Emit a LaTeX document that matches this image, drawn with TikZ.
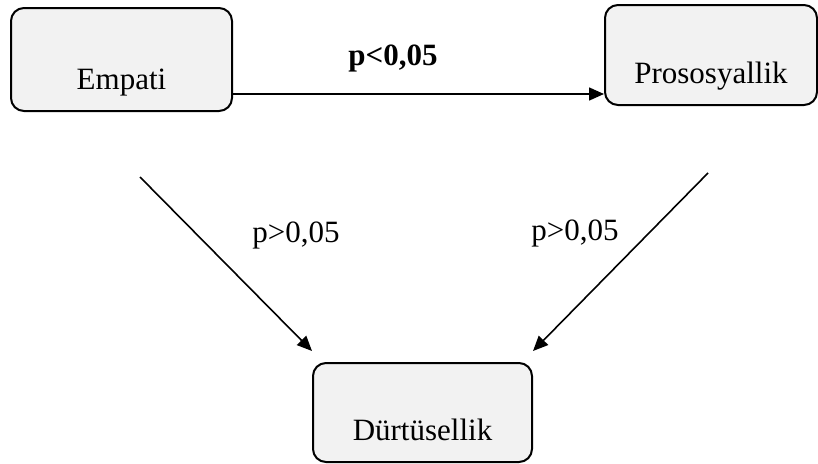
\documentclass[tikz,border=0pt]{standalone}
\usepackage{fontspec}
\setmainfont{Liberation Serif}
\usetikzlibrary{arrows.meta}

\tikzstyle{kutu} = [draw, line width=2pt, rounded corners=13pt, fill=gray!10, inner sep=0pt, text depth=22pt, font=\fontsize{31}{36}\selectfont]
\tikzstyle{ok} = [draw, line width=1.6pt, -{Triangle[length=15pt,width=13pt]}]
\tikzstyle{etiket} = [anchor=base, inner sep=0pt, font=\fontsize{31}{36}\selectfont]

\begin{document}
\begin{tikzpicture}[x=1pt,y=-1pt]
       \useasboundingbox (0,0) rectangle (818,463);
       \node[kutu, minimum width=221pt, text height=81pt] (empati) at (121.5,59.5) {Empati};
       \node[kutu, minimum width=212pt, text height=78pt] (prosos) at (711,55) {Prososyallik};
       \node[kutu, minimum width=219pt, text height=77pt] (durt) at (422.5,412.5) {Dürtüsellik};
       \coordinate (sol) at (140,177);
       \coordinate (sag) at (708,173);
       \path[ok] ([yshift=-34.5pt]empati.east) -- ([yshift=-34.5pt]empati.east -| prosos.west);
       \path[ok] (sol) -- ([yshift=11pt]durt.north west);
       \path[ok] (sag) -- ([yshift=11pt]durt.north east);
       \node[etiket] (anlamli) at (393,65) {\bfseries p<0,05};
       \node[etiket] (sol p) at (296,242) {p>0,05};
       \node[etiket] (sag p) at (575,240) {p>0,05};
\end{tikzpicture}
\end{document}
